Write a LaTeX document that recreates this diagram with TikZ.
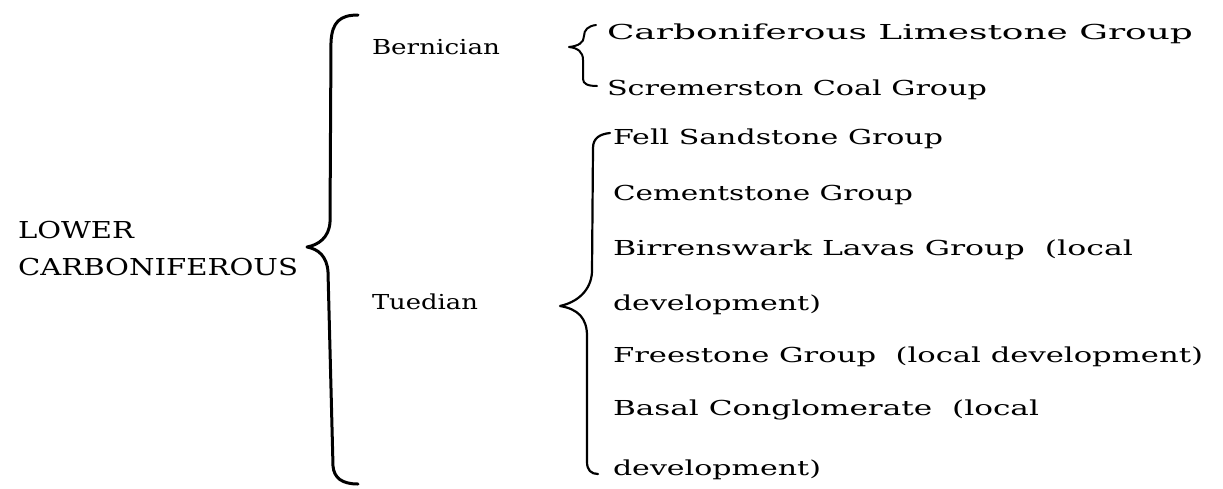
\documentclass[tikz,border=0pt]{standalone}
\usepackage{fontspec}
\setmainfont{DejaVu Serif}
\usepackage{graphicx}
\newlength\fitlen
\newcommand\fitw[2]{\settowidth\fitlen{#2}\pgfmathsetmacro\fitr{#1/\fitlen}\scalebox{\fitr}[1]{#2}}
\begin{document}
\begin{tikzpicture}[x=1pt,y=-1pt,
  lbl/.style={anchor=base west,inner sep=0pt,outer sep=0pt,font=\fontsize{20.6}{24}\selectfont},
  capl/.style={anchor=base west,inner sep=0pt,outer sep=0pt,font=\fontsize{23.3}{28}\selectfont},
  brc/.style={line width=2.4pt,line cap=round,line join=round}]
\useasboundingbox (0,0) rectangle (1223,488);
\node[capl] (lower) at (18,238) {\fitw{116}{LOWER}};
\node[capl] (carb) at (18,275) {\fitw{280}{CARBONIFEROUS}};
\node[lbl] (bern) at (372,54) {\fitw{128}{Bernician}};
\node[lbl] (tued) at (372,309) {\fitw{106}{Tuedian}};
\node[lbl] (clg) at (607,39) {\fitw{586}{Carboniferous Limestone Group}};
\node[lbl] (scg) at (607,95) {\fitw{380}{Scremerston Coal Group}};
\node[lbl] (fsg) at (613,144) {\fitw{330}{Fell Sandstone Group}};
\node[lbl] (csg) at (613,200) {\fitw{300}{Cementstone Group}};
\node[lbl] (blg) at (613,255) {\fitw{520}{Birrenswark Lavas Group\ \ (local}};
\node[lbl] (bld) at (613,310) {\fitw{208}{development)}};
\node[lbl] (fgl) at (613,362) {\fitw{590}{Freestone Group\ \ (local development)}};
\node[lbl] (bcg) at (613,415) {\fitw{426}{Basal Conglomerate\ \ (local}};
\node[lbl] (bcd) at (613,475) {\fitw{208}{development)}};
% big brace
\draw[brc,line width=3pt] (358,15) .. controls (340,15) and (332,22) .. (331,42) -- (330,222)
  .. controls (329,238) and (318,245) .. (307,247)
  .. controls (318,249) and (327,256) .. (328,272) -- (333,466)
  .. controls (334,478) and (342,484) .. (358,484);
% Bernician brace
\draw[brc,line width=2pt] (596,25) .. controls (588,26) and (584,30) .. (584,36)
  .. controls (584,43) and (578,46) .. (569,47)
  .. controls (578,48) and (583,52) .. (583,60) -- (583,79)
  .. controls (583,84) and (588,86) .. (597,86);
% Tuedian brace
\draw[brc,line width=2.2pt] (610,133) .. controls (600,134) and (593,138) .. (593,148) -- (592,272)
  .. controls (591,290) and (578,302) .. (560,306)
  .. controls (578,309) and (587,318) .. (587,336) -- (587,462)
  .. controls (587,470) and (591,474) .. (598,474);
\end{tikzpicture}
\end{document}
